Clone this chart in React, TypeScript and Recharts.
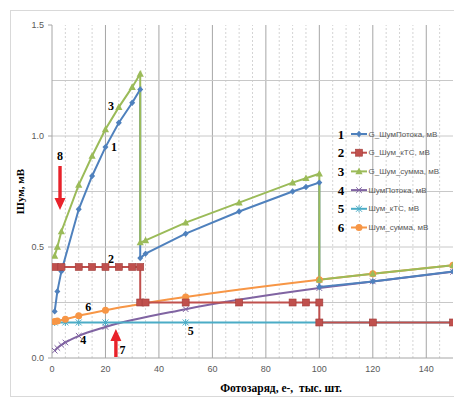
import React from 'react';
import { LineChart, Line, XAxis, YAxis, ReferenceLine, ReferenceDot, Label } from 'recharts';

// ---- axes ----
const xTicks = [0, 20, 40, 60, 80, 100, 120, 140];
const yTicks = [0, 0.5, 1.0, 1.5];
const yGrid = [0.25, 0.5, 0.75, 1.0, 1.25];
const xGridMajor = [20, 40, 60, 80, 100, 120, 140];
const xGridMinor = [5, 10, 15, 25, 30, 35, 45, 50, 55, 65, 70, 75, 85, 90, 95, 105, 110, 115, 125, 130, 135, 145];

// ---- series 1: G_ШумПотока ----
const s1X = [1, 2, 3.5, 10, 15, 20, 25, 30, 33, 33, 35, 50, 70, 90, 95, 100, 100, 120, 150];
const s1Y = [0.21, 0.30, 0.39, 0.67, 0.82, 0.95, 1.06, 1.15, 1.21, 0.45, 0.47, 0.56, 0.66, 0.75, 0.77, 0.79, 0.32, 0.345, 0.39];
// ---- series 2: G_Шум_кТС ----
const s2X = [1, 3.5, 10, 15, 20, 25, 30, 33, 33, 35, 50, 70, 90, 95, 100, 100, 120, 150];
const s2Y = [0.41, 0.41, 0.41, 0.41, 0.41, 0.41, 0.41, 0.41, 0.25, 0.25, 0.25, 0.25, 0.25, 0.25, 0.25, 0.16, 0.16, 0.16];
// ---- series 3: G_Шум_сумма ----
const s3X = [1, 2, 3.5, 10, 15, 20, 25, 30, 33, 33, 35, 50, 70, 90, 95, 100, 100, 120, 150];
const s3Y = [0.46, 0.50, 0.57, 0.78, 0.91, 1.03, 1.13, 1.22, 1.28, 0.52, 0.53, 0.61, 0.70, 0.79, 0.81, 0.83, 0.353, 0.38, 0.418];
// ---- series 4: ШумПотока ----
const s4X = [1, 2, 3.5, 5, 10, 20, 50, 100, 120, 150];
const s4Y = [0.033, 0.045, 0.059, 0.07, 0.10, 0.14, 0.22, 0.315, 0.345, 0.388];
// ---- series 5: Шум_кТС ----
const s5X = [1, 5, 10, 20, 50, 100, 120, 150];
const s5Y = [0.16, 0.16, 0.16, 0.16, 0.16, 0.16, 0.16, 0.16];
// ---- series 6: Шум_сумма ----
const s6X = [1, 2, 5, 10, 20, 50, 100, 120, 150];
const s6Y = [0.164, 0.167, 0.175, 0.19, 0.215, 0.275, 0.353, 0.38, 0.418];

const seriesNames = ['G_ШумПотока, мВ', 'G_Шум_кТС, мВ', 'G_Шум_сумма, мВ', 'ШумПотока, мВ', 'Шум_кТС, мВ', 'Шум_сумма, мВ'];
const seriesNums = ['1', '2', '3', '4', '5', '6'];
const seriesColors = ['#4F81BD', '#C0504D', '#9BBB59', '#8064A2', '#4BACC6', '#F79646'];
const seriesMarkers = ['diamond', 'square', 'triangle', 'x', 'star', 'circle'];

// ---- annotations ----
const noteText = ['1', '3', '2', '6', '4', '5', '7', '8'];
const noteX = [23.2, 22.1, 22.1, 13.6, 11.7, 51.9, 26.4, 3];
const noteY = [0.949, 1.137, 0.446, 0.228, 0.081, 0.123, 0.036, 0.911];
const arrowX = [3, 23.9];
const arrowY = [0.667, 0.131];
const arrowDir = ['down', 'up'];

const toData = (xs: number[], ys: number[]) => xs.map((x, i) => ({ x, y: ys[i] }));
const allData = [toData(s1X, s1Y), toData(s2X, s2Y), toData(s3X, s3Y), toData(s4X, s4Y), toData(s5X, s5Y), toData(s6X, s6Y)];

function Marker({ kind, cx, cy, color }: { kind: string; cx: number; cy: number; color: string }) {
  if (cx == null || cy == null || isNaN(cx) || isNaN(cy)) return null;
  switch (kind) {
    case 'diamond':
      return <path d={`M${cx},${cy - 3.2}L${cx + 3},${cy}L${cx},${cy + 3.2}L${cx - 3},${cy}Z`} fill={color} />;
    case 'square':
      return <rect x={cx - 3.5} y={cy - 3.5} width={7} height={7} fill={color} stroke="#a03c3a" strokeWidth={0.6} />;
    case 'triangle':
      return <path d={`M${cx},${cy - 3.8}L${cx + 3.6},${cy + 2.8}L${cx - 3.6},${cy + 2.8}Z`} fill={color} />;
    case 'x':
      return <path d={`M${cx - 2.8},${cy - 2.8}L${cx + 2.8},${cy + 2.8}M${cx - 2.8},${cy + 2.8}L${cx + 2.8},${cy - 2.8}`} stroke={color} strokeWidth={1} fill="none" />;
    case 'star':
      return <path d={`M${cx - 3},${cy - 3}L${cx + 3},${cy + 3}M${cx - 3},${cy + 3}L${cx + 3},${cy - 3}M${cx},${cy - 3.5}L${cx},${cy + 3.5}`} stroke={color} strokeWidth={1} fill="none" />;
    case 'circle':
      return <circle cx={cx} cy={cy} r={3.5} fill={color} />;
    default:
      return null;
  }
}

const serif = "'Liberation Serif', 'Times New Roman', serif";
const sans = "'Liberation Sans', Arial, sans-serif";

const LegendBox = () => (
  <svg width={120} height={115} style={{ position: 'absolute', left: 333, top: 125, overflow: 'visible' }}>
    {seriesNames.map((name, i) => {
      const cy = 9 + i * 18.7;
      return (
        <g key={name}>
          <text x={8} y={cy} textAnchor="middle" dominantBaseline="central" fontFamily={serif} fontWeight="bold" fontSize={13} fill="#000">
            {seriesNums[i]}
          </text>
          <line x1={18} y1={cy} x2={34} y2={cy} stroke={seriesColors[i]} strokeWidth={2} />
          <Marker kind={seriesMarkers[i]} cx={26} cy={cy} color={seriesColors[i]} />
          <text x={35.5} y={cy} dominantBaseline="central" fontFamily={sans} fontSize={8} fill="#595959">
            {name}
          </text>
        </g>
      );
    })}
  </svg>
);

export default function App() {
  // draw non-G series first, G series on top
  const order = [3, 4, 5, 0, 1, 2];
  return (
    <div style={{ position: 'absolute', left: 0, top: 0, width: 454, height: 399, background: '#fff', overflow: 'hidden' }}>
      <div style={{ position: 'absolute', left: 10, top: 10, width: 470, height: 387, border: '1px solid #d9d9d9', boxSizing: 'border-box' }} />
      <div style={{ position: 'absolute', left: 0, top: 0 }}>
        <LineChart width={454} height={399} margin={{ top: 25, right: 1, bottom: 11, left: 0 }}>
          <XAxis
            dataKey="x"
            type="number"
            domain={[0, 150]}
            ticks={xTicks}
            allowDataOverflow
            height={30}
            tickLine={false}
            axisLine={{ stroke: '#a6a6a6' }}
            tick={{ fontSize: 9, fill: '#595959', fontFamily: sans }}
          >
            <Label
              content={({ viewBox }: any) => (
                <text x={viewBox.x + 229} y={viewBox.y + 30} textAnchor="middle" dominantBaseline="central" fontFamily={serif} fontWeight="bold" fontSize={11.5} fill="#000" style={{ whiteSpace: 'pre' }}>
                  {'Фотозаряд, е-,  тыс. шт.'}
                </text>
              )}
            />
          </XAxis>
          <YAxis
            dataKey="y"
            type="number"
            domain={[0, 1.5]}
            ticks={yTicks}
            width={52}
            tickSize={4}
            tickMargin={4}
            tickLine={{ stroke: '#a6a6a6' }}
            axisLine={{ stroke: '#a6a6a6' }}
            tickFormatter={(v: number) => v.toFixed(1)}
            tick={{ fontSize: 9, fill: '#595959', fontFamily: sans }}
          >
            <Label
              content={({ viewBox }: any) => {
                const cx = viewBox.x + 20;
                const cy = viewBox.y + viewBox.height / 2;
                return (
                  <text x={cx} y={cy} transform={`rotate(-90, ${cx}, ${cy})`} textAnchor="middle" dominantBaseline="central" fontFamily={serif} fontWeight="bold" fontSize={11} fill="#000">
                    Шум, мВ
                  </text>
                );
              }}
            />
          </YAxis>

          {xGridMinor.map((v) => (
            <ReferenceLine key={`xm${v}`} x={v} stroke="#d4d4d4" strokeDasharray="2 2" strokeWidth={1} />
          ))}
          {xGridMajor.map((v) => (
            <ReferenceLine key={`xM${v}`} x={v} stroke="#a6a6a6" strokeWidth={1} />
          ))}
          {yGrid.map((v) => (
            <ReferenceLine key={`y${v}`} y={v} stroke="#c8c8c8" strokeWidth={1} />
          ))}

          {order.map((i) => (
            <Line
              key={seriesNames[i]}
              data={allData[i]}
              dataKey="y"
              name={seriesNames[i]}
              type={i === 3 || i === 5 ? 'monotone' : 'linear'}
              stroke={seriesColors[i]}
              strokeWidth={2}
              isAnimationActive={false}
              dot={(p: any) => <Marker key={`d${i}-${p.index}`} kind={seriesMarkers[i]} cx={p.cx} cy={p.cy} color={seriesColors[i]} />}
              activeDot={false}
            />
          ))}

          {noteText.map((t, i) => (
            <ReferenceDot
              key={`n${i}`}
              x={noteX[i]}
              y={noteY[i]}
              r={0}
              shape={(p: any) => (
                <text x={p.cx} y={p.cy} textAnchor="middle" dominantBaseline="central" fontFamily={serif} fontWeight="bold" fontSize={12} fill="#000">
                  {t}
                </text>
              )}
            />
          ))}
          {arrowX.map((ax, i) => (
            <ReferenceDot
              key={`a${i}`}
              x={ax}
              y={arrowY[i]}
              r={0}
              shape={(p: any) => {
                const s = arrowDir[i] === 'down' ? -1 : 1;
                const len = arrowDir[i] === 'down' ? 44 : 28;
                const cx = p.cx;
                const cy = p.cy;
                const hb = cy + s * 12;
                const d = `M${cx},${cy}L${cx + 5.5},${hb}L${cx + 1.7},${hb}L${cx + 1.7},${cy + s * len}L${cx - 1.7},${cy + s * len}L${cx - 1.7},${hb}L${cx - 5.5},${hb}Z`;
                return <path d={d} fill="#e8222a" />;
              }}
            />
          ))}
        </LineChart>
      </div>
      <LegendBox />
    </div>
  );
}
